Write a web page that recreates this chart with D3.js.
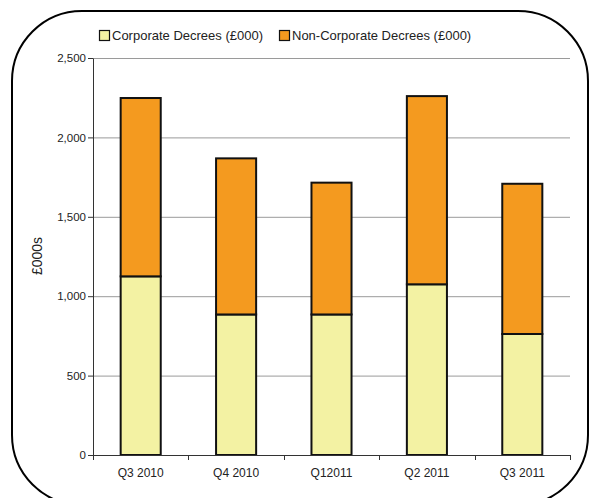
<!DOCTYPE html>
<html><head><meta charset="utf-8">
<script src="https://cdn.jsdelivr.net/npm/d3@7/dist/d3.min.js"></script>
<style>body{margin:0;background:#fff}svg{display:block;font-family:"Liberation Sans",Arial,sans-serif}</style>
</head><body><svg id="c" width="590" height="498"></svg>
<script>
const categories = ["Q3 2010","Q4 2010","Q1 2011","Q2 2011","Q3 2011"];
const categoryLabels = ["Q3 2010","Q4 2010","Q12011","Q2 2011","Q3 2011"];
const corporate = [1125, 885, 885, 1075, 762];
const nonCorporate = [1123, 983, 830, 1185, 946];
const seriesNames = ["Corporate Decrees (£000)", "Non-Corporate Decrees (£000)"];
const yTicks = [0, 500, 1000, 1500, 2000, 2500];
const colors = ["#F3F2A3", "#F49A1F"];

const svg = d3.select("#c");
// outer rounded frame
svg.append("rect").attr("x",12).attr("y",11).attr("width",576).attr("height",494)
  .attr("rx",70).attr("ry",70).attr("fill","none").attr("stroke","#000").attr("stroke-width",2);

const m = {l:93, r:570, t:58, b:455};
const x = d3.scaleBand().domain(categories).range([m.l, m.r]).paddingInner(0.58).paddingOuter(0.29);
const xb = d3.scaleBand().domain(categories).range([m.l, m.r]);
const y = d3.scaleLinear().domain([0,2500]).range([m.b, m.t]);

// gridlines
svg.append("g").selectAll("line").data(yTicks.filter(d=>d>0)).join("line")
  .attr("x1",m.l).attr("x2",m.r).attr("y1",d=>y(d)+0.5).attr("y2",d=>y(d)+0.5)
  .attr("stroke","#9a9a9a").attr("stroke-width",1);

const stack = d3.stack().keys([0,1]).value((d,k)=>d[k]);
const rows = categories.map((c,i)=>({0:corporate[i],1:nonCorporate[i],cat:c}));
const layers = stack(rows);
layers.forEach((layer,k)=>{
  svg.append("g").selectAll("rect").data(layer).join("rect")
    .attr("x",d=>x(d.data.cat)).attr("width",x.bandwidth())
    .attr("y",d=>y(d[1])).attr("height",d=>y(d[0])-y(d[1]))
    .attr("fill",colors[k]).attr("stroke","#111").attr("stroke-width",2);
});

// y axis
const ya = svg.append("g").attr("transform",`translate(${m.l},0)`)
  .call(d3.axisLeft(y).tickValues(yTicks).tickSize(5).tickSizeOuter(0).tickFormat(d3.format(",")));
ya.select(".domain").attr("stroke","#333");
ya.selectAll(".tick line").attr("stroke","#333");
ya.selectAll("text").attr("font-size",11.5).attr("fill","#222").attr("font-family","Liberation Sans, Arial, sans-serif").attr("x",-7);

// x axis
const xa = svg.append("g").attr("transform",`translate(0,${m.b})`);
xa.append("line").attr("x1",m.l).attr("x2",m.r).attr("y1",0.5).attr("y2",0.5).attr("stroke","#333");
xa.selectAll(".tk").data(categories.concat(["end"])).join("line")
  .attr("x1",(d,i)=>Math.round(m.l + i*xb.step())+0.5).attr("x2",(d,i)=>Math.round(m.l + i*xb.step())+0.5)
  .attr("y1",0).attr("y2",5).attr("stroke","#333");
xa.selectAll("text").data(categories).join("text")
  .attr("x",d=>x(d)+x.bandwidth()/2).attr("y",22).attr("text-anchor","middle")
  .attr("font-size",12).attr("fill","#222").text((d,i)=>categoryLabels[i]);

// y label
svg.append("text").attr("transform","translate(42,256) rotate(-90)").attr("text-anchor","middle")
  .attr("font-size",14).attr("fill","#222").text("£000s");

// legend
const lx = [99, 279];
seriesNames.forEach((n,i)=>{
  svg.append("rect").attr("x",lx[i]+0.5).attr("y",30.5).attr("width",10).attr("height",10)
    .attr("fill",colors[i]).attr("stroke","#111").attr("stroke-width",1.2);
  svg.append("text").attr("x",lx[i]+13).attr("y",40).attr("font-size",13).attr("fill","#222").text(n);
});
</script></body></html>
